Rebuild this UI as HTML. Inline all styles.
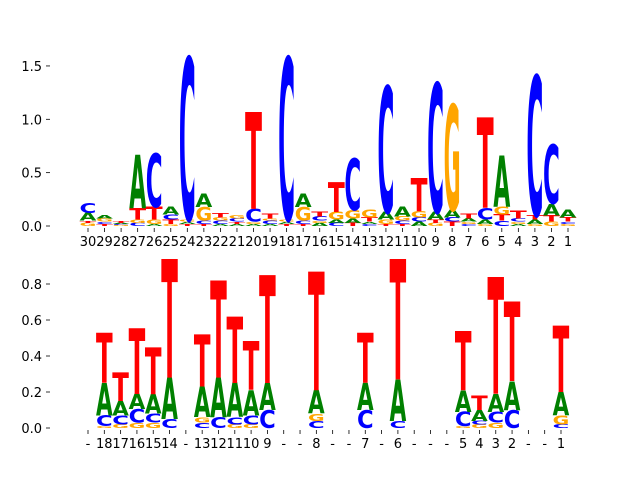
<!DOCTYPE html>
<html><head><meta charset="utf-8"><style>
html,body{margin:0;padding:0;background:#fff}
svg{display:block}
text{font-family:"DejaVu Sans","Liberation Sans",sans-serif}
</style></head><body>
<svg id="chart" width="640" height="480" viewBox="0 0 640 480" xmlns="http://www.w3.org/2000/svg">
<g id="top"></g>
<g id="bot"></g>
</svg>
<script>
// Top panel data: stacks listed bottom-to-top as [letter, height]
const topLabels = ["30","29","28","27","26","25","24","23","22","21","20","19","18","17","16","15","14","13","12","11","10","9","8","7","6","5","4","3","2","1"];
const topStacks = [
 [["G",.03],["T",.02],["A",.07],["C",.09]],
 [["T",.02],["C",.02],["G",.03],["A",.03]],
 [["G",.01],["C",.01],["A",.01],["T",.02]],
 [["C",.03],["G",.03],["T",.11],["A",.5]],
 [["A",.02],["G",.04],["T",.12],["C",.5]],
 [["G",.02],["T",.04],["C",.05],["A",.07]],
 [["T",.02],["A",.02],["G",.02],["C",1.52]],
 [["T",.02],["C",.03],["G",.13],["A",.13]],
 [["A",.02],["C",.03],["G",.03],["T",.04]],
 [["A",.02],["T",.02],["C",.03],["G",.03]],
 [["A",.02],["G",.02],["C",.12],["T",.91]],
 [["A",.02],["C",.03],["G",.02],["T",.05]],
 [["T",.02],["A",.02],["G",.02],["C",1.52]],
 [["T",.02],["C",.03],["G",.13],["A",.13]],
 [["A",.03],["G",.02],["C",.04],["T",.05]],
 [["C",.03],["A",.03],["G",.07],["T",.28]],
 [["T",.03],["A",.04],["G",.08],["C",.48]],
 [["C",.02],["A",.02],["T",.04],["G",.07]],
 [["T",.02],["G",.04],["A",.07],["C",1.18]],
 [["T",.02],["C",.03],["G",.04],["A",.09]],
 [["A",.04],["C",.04],["G",.06],["T",.31]],
 [["G",.03],["T",.03],["A",.07],["C",1.21]],
 [["T",.04],["C",.04],["A",.07],["G",.99]],
 [["C",.02],["G",.02],["A",.03],["T",.05]],
 [["G",.02],["A",.04],["C",.11],["T",.85]],
 [["C",.05],["T",.06],["G",.07],["A",.48]],
 [["A",.02],["G",.02],["C",.03],["T",.07]],
 [["G",.02],["A",.04],["T",.04],["C",1.31]],
 [["G",.04],["T",.06],["A",.11],["C",.55]],
 [["G",.02],["C",.02],["T",.04],["A",.07]]
];
const topYTicks = [0,0.5,1.0,1.5];
const topYTickLabels = ["0.0","0.5","1.0","1.5"];

// Bottom panel data
const botLabels = ["-","18","17","16","15","14","-","13","12","11","10","9","-","-","8","-","-","7","-","6","-","-","-","5","4","3","2","-","-","1"];
const botStacks = [
 [],
 [["G",.01],["C",.06],["A",.18],["T",.28]],
 [["G",.02],["C",.05],["A",.08],["T",.16]],
 [["G",.03],["C",.075],["A",.085],["T",.365]],
 [["G",.03],["C",.05],["A",.11],["T",.26]],
 [["C",.05],["A",.23],["T",.66]],
 [],
 [["C",.03],["G",.03],["A",.17],["T",.29]],
 [["C",.06],["A",.22],["T",.54]],
 [["G",.02],["C",.04],["A",.19],["T",.37]],
 [["G",.02],["C",.05],["A",.14],["T",.27]],
 [["C",.1],["A",.15],["T",.60]],
 [],[],
 [["C",.04],["G",.04],["A",.13],["T",.66]],
 [],[],
 [["C",.1],["A",.15],["T",.28]],
 [],
 [["C",.04],["A",.23],["T",.67]],
 [],[],[],
 [["G",.01],["C",.08],["A",.12],["T",.33]],
 [["G",.02],["C",.02],["A",.06],["T",.08]],
 [["G",.03],["C",.06],["A",.10],["T",.65]],
 [["C",.10],["A",.16],["T",.44]],
 [],[],
 [["C",.02],["G",.05],["A",.13],["T",.37]]
];
const botYTicks = [0,0.2,0.4,0.6,0.8];
const botYTickLabels = ["0.0","0.2","0.4","0.6","0.8"];

const colors = {A:"#008000",C:"#0000ff",G:"#ffa500",T:"#ff0000"};
const NS = "http://www.w3.org/2000/svg";

function drawPanel(g, labels, stacks, yticks, ytl, x0, x1, y0px, pxPerUnit, tickLen, labelY, panelName){
  const n = labels.length;
  const step = (x1 - x0) / (n - 1);
  const xs = i => x0 + i * step;
  const ys = v => y0px - v * pxPerUnit;
  const w = step * 1.02;
  yticks.forEach((t, k) => {
    const ln = document.createElementNS(NS, "line");
    
    
    ln.setAttribute("x1", 46); ln.setAttribute("x2", 50);
    ln.setAttribute("y1", ys(t)); ln.setAttribute("y2", ys(t));
    ln.setAttribute("stroke", "#000"); ln.setAttribute("stroke-width", "0.8");
    g.appendChild(ln);
    const tx = document.createElementNS(NS, "text");
    
    
    tx.setAttribute("x", 42); tx.setAttribute("y", ys(t) + 5);
    tx.setAttribute("text-anchor", "end"); tx.setAttribute("font-size", "13");
    tx.textContent = ytl[k];
    g.appendChild(tx);
  });
  labels.forEach((lab, i) => {
    const ln = document.createElementNS(NS, "line");
    
    
    ln.setAttribute("x1", xs(i)); ln.setAttribute("x2", xs(i));
    ln.setAttribute("y1", y0px + 2); ln.setAttribute("y2", y0px + 2 + tickLen);
    ln.setAttribute("stroke", "#000"); ln.setAttribute("stroke-width", "0.8");
    g.appendChild(ln);
    const tx = document.createElementNS(NS, "text");
    
    
    tx.setAttribute("x", xs(i)); tx.setAttribute("y", labelY);
    tx.setAttribute("text-anchor", "middle"); tx.setAttribute("font-size", "13");
    tx.textContent = lab;
    g.appendChild(tx);
  });
  stacks.forEach((st, i) => {
    let cum = 0;
    st.forEach(([L, h]) => {
      const yb = ys(cum), hp = h * pxPerUnit;
      cum += h;
      if (hp < 0.3) return;
      const t = document.createElementNS(NS, "text");
      
      
      t.setAttribute("x", 0); t.setAttribute("y", 0);
      t.setAttribute("font-size", "100");
      t.setAttribute("font-weight", "bold");
      t.setAttribute("textLength", "100");
      t.setAttribute("lengthAdjust", "spacingAndGlyphs");
      t.setAttribute("fill", colors[L]);
      t.setAttribute("transform", `translate(${xs(i) - w/2},${yb}) scale(${w/100},${hp/73})`);
      t.textContent = L;
      g.appendChild(t);
    });
  });
}
drawPanel(document.getElementById("top"), topLabels, topStacks, topYTicks, topYTickLabels, 88, 568, 226, 106.7, 4, 246, "top");
drawPanel(document.getElementById("bot"), botLabels, botStacks, botYTicks, botYTickLabels, 88, 561, 428, 180, 4, 448, "bottom");
</script>
</body></html>
